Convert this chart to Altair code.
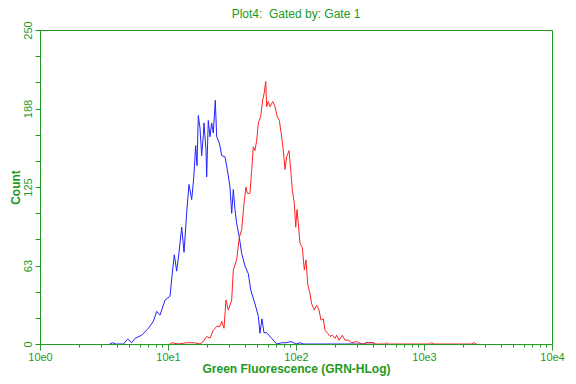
import altair as alt
import pandas as pd

# Blue histogram (fluorescence value, count)
blue_x = [3.5, 3.7, 3.9, 4.5, 4.84, 5.20, 5.52, 6.23, 7.02, 7.68, 8.16, 8.66, 9.48, 10.37, 10.69,
          11.20, 11.69, 12.19, 12.80, 13.34, 14.00, 14.59, 15.32, 15.88, 16.45, 16.85, 17.25,
          17.78, 18.33, 18.87, 19.11, 19.81, 20.05, 20.64, 21.28, 21.94, 22.59, 23.42, 24.01,
          25.18, 26.28, 27.87, 29.06, 30.49, 31.45, 32.37, 33.36, 34.39, 36.06, 37.65, 39.97,
          42.41, 44.3, 47.8, 50.8, 52.3, 54.2, 56.2, 59.0, 64.6, 70.6, 77.3, 84.6, 91.4, 100,
          107.5, 115, 340, 352, 400, 415]
blue_y = [0, 1, 0, 0, 4, 1, 4.5, 7, 12.5, 18, 26, 23, 35, 38, 52,
          71, 58, 73, 93, 73, 105, 127, 115, 132, 158, 142, 182,
          172, 150, 166, 176, 154, 133, 178, 165, 176, 168, 194, 165,
          160, 150, 149, 139, 125, 104, 123, 107, 96, 85, 72, 62,
          56, 43, 32, 22, 8.5, 20, 9, 9, 4.5, 0, 1, 1, 2, 0,
          1, 0, 0, 1, 1, 0]

# Red histogram (fluorescence value, count)
red_x = [10.3, 10.7, 12.0, 14.0, 16.0, 17.78, 18.87, 20.05, 21.28, 22.59, 24.01, 25.48, 26.28,
         27.38, 28.39, 29.59, 31.45, 32.37, 34.39, 36.06, 37.65, 39.24, 40.7, 41.66, 43.71,
         45.1, 46.4, 47.8, 49.3, 50.8, 52.9, 54.9, 56.5, 58.0, 59.0, 60.8, 62.7, 65.8, 68.5,
         71.4, 74.1, 77.3, 79.6, 82.0, 84.6, 88.2, 91.4, 93.5, 97.0, 99.5, 101.8, 104.3, 107.5,
         112.0, 116.1, 119.7, 123.4, 128.5, 132.6, 139.0, 145.1, 151.3, 156.8, 163.4, 168.6,
         176.9, 184.5, 192.2, 201.8, 208.0, 216.8, 230.0, 241.5, 256.4, 272.4, 298, 326,
         345, 352, 400, 420, 490, 511, 530, 1100, 1148, 1200, 2350, 2458, 2570]
red_y = [0, 1, 0, 1, 1, 0, 2, 6, 4.5, 11, 14, 14, 18,
         12.5, 35, 27, 35, 59, 67, 85, 91, 112, 125, 120, 120,
         139, 157, 154, 162, 176, 181, 194, 200, 209, 189, 193, 189, 193, 189,
         181, 178, 165, 154, 139, 149, 154, 136, 123, 112, 93, 107, 96, 80,
         77, 59, 67, 48, 40, 32, 27, 31, 27, 19, 20, 11,
         8.5, 6, 7, 4.5, 7, 3, 7, 3, 3, 1, 2, 0,
         0, 1, 1, 0, 0, 1, 0, 0, 1, 0, 0, 1, 0]

x_ticks = [1, 2, 3, 4, 5, 6, 7, 8, 9,
           10, 20, 30, 40, 50, 60, 70, 80, 90,
           100, 200, 300, 400, 500, 600, 700, 800, 900,
           1000, 2000, 3000, 4000, 5000, 6000, 7000, 8000, 9000, 10000]
y_ticks = [0, 20.833, 41.667, 62.5, 83.333, 104.167, 125, 145.833, 166.667,
           187.5, 208.333, 229.167, 250]

GREEN = "#229922"
FONT = "Liberation Sans"

df = pd.concat([
    pd.DataFrame({"x": blue_x, "y": blue_y, "s": "blue"}),
    pd.DataFrame({"x": red_x, "y": red_y, "s": "red"}),
])

decade_test = "datum.value == 1 || datum.value == 10 || datum.value == 100 || datum.value == 1000 || datum.value == 10000"

x_axis = alt.Axis(
    values=x_ticks,
    labelExpr="datum.value == 1 ? '10e0' : datum.value == 10 ? '10e1' : datum.value == 100 ? '10e2' : datum.value == 1000 ? '10e3' : datum.value == 10000 ? '10e4' : ''",
    tickSize={"condition": {"test": decade_test, "value": 6}, "value": 3},
    labelFlush=False, labelOverlap=False, grid=False, zindex=1,
    title="Green Fluorescence (GRN-HLog)", titleFontWeight="bold", titleFontSize=12,
    titlePadding=1, labelFontSize=11, labelPadding=1,
)
y_axis = alt.Axis(
    values=y_ticks,
    labelExpr="abs(datum.value/62.5 - round(datum.value/62.5)) < 0.01 ? toString(round(datum.value)) : ''",
    tickSize=5, labelAngle=270, labelFlush=False, labelOverlap=False, grid=False, zindex=1,
    title="Count", titleFontWeight="bold", titleFontSize=12, titlePadding=0,
    labelFontSize=11, labelPadding=2,
)

chart = alt.Chart(df).mark_line(strokeWidth=1).encode(
    x=alt.X("x:Q", scale=alt.Scale(type="log", domain=[1, 10000], nice=False), axis=x_axis),
    y=alt.Y("y:Q", scale=alt.Scale(domain=[0, 250], nice=False, zero=True), axis=y_axis),
    color=alt.Color("s:N", scale=alt.Scale(domain=["blue", "red"], range=["#2222ff", "#ff2222"]), legend=None),
).properties(
    width=512, height=314,
    title=alt.TitleParams("Plot4:\u00a0 Gated by: Gate 1", fontSize=12, fontWeight="normal",
                          color=GREEN, font=FONT, offset=0, frame="group"),
    autosize=alt.AutoSizeParams(type="none"),
    padding={"left": 32, "top": 22, "right": 16, "bottom": 32},
    background="white",
).configure_view(
    stroke=GREEN, strokeWidth=1,
).configure_axis(
    domainColor=GREEN, tickColor=GREEN, labelColor=GREEN, titleColor=GREEN,
    labelFont=FONT, titleFont=FONT, domainWidth=1, tickWidth=1,
)

chart.save("out.html", embed_options={"renderer": "svg", "actions": False})
